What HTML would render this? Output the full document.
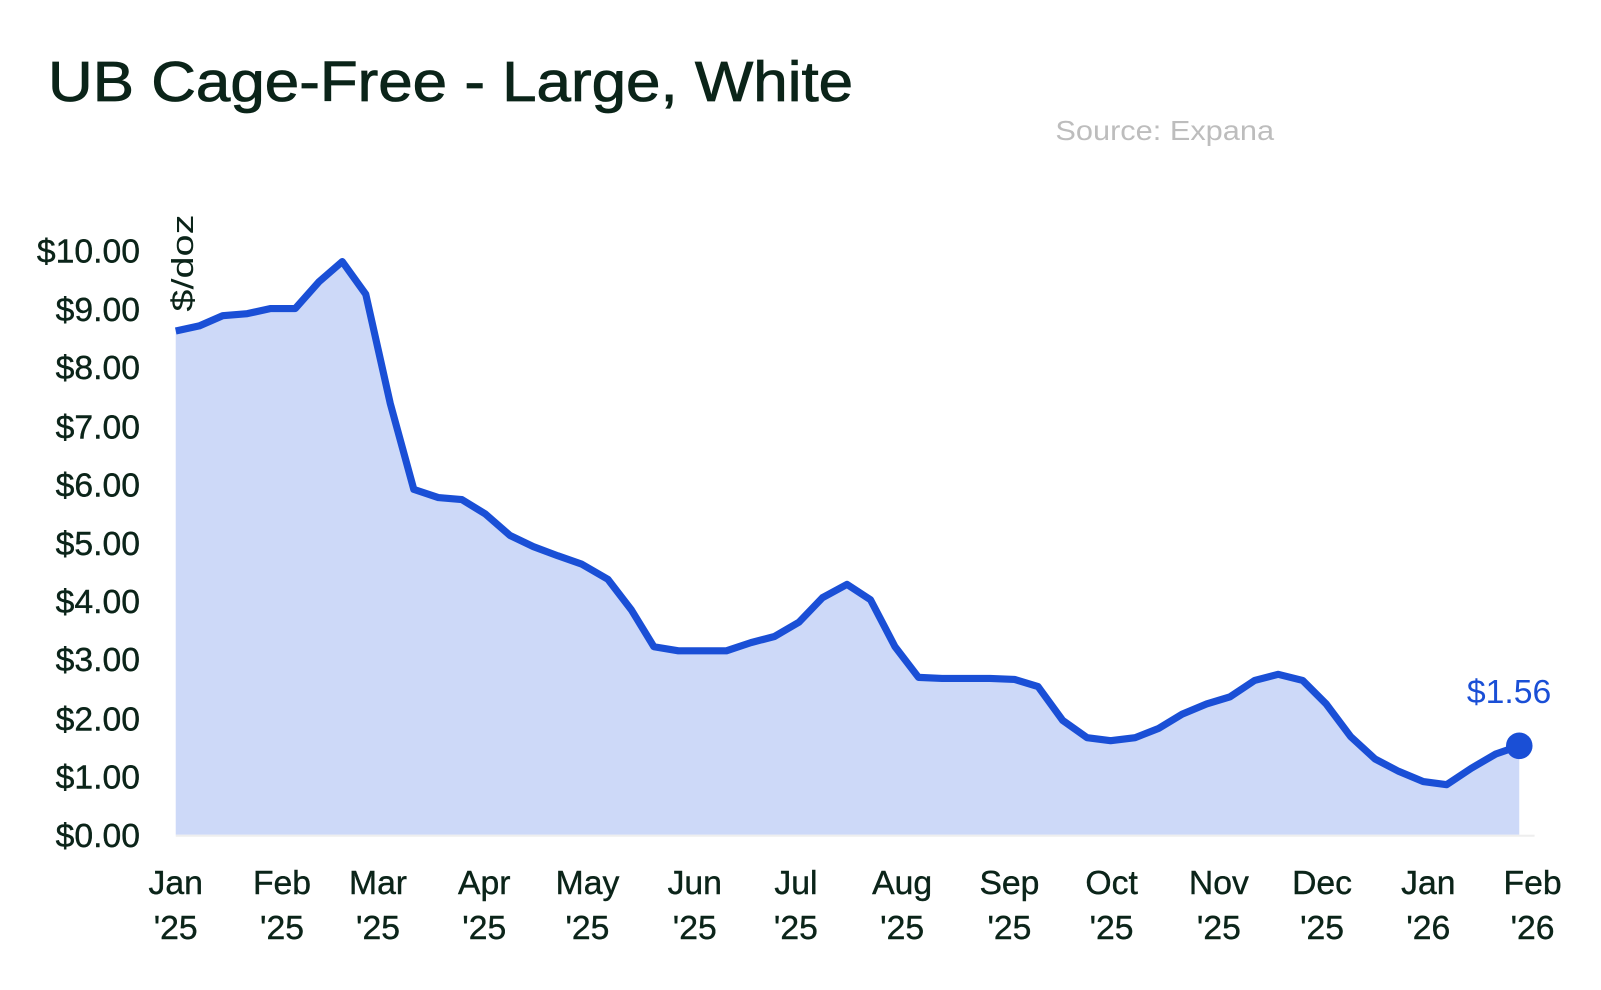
<!DOCTYPE html>
<html><head><meta charset="utf-8"><style>
html,body{margin:0;padding:0;background:#fff}
svg{display:block}
text{font-family:"Liberation Sans",sans-serif}
</style></head><body>
<svg width="1601" height="990" viewBox="0 0 1567 969" preserveAspectRatio="none" xmlns="http://www.w3.org/2000/svg">
<text x="47" y="99" font-size="55" fill="#0b2419" textLength="788" lengthAdjust="spacingAndGlyphs" stroke="#0b2419" stroke-width="0.8">UB Cage-Free - Large, White</text>
<text x="1033" y="137" font-size="27" fill="#bdbdbd" textLength="214" lengthAdjust="spacingAndGlyphs">Source: Expana</text>
<g font-size="33" fill="#0b2419" text-anchor="end" stroke="#0b2419" stroke-width="0.4">
<text x="137" y="257">$10.00</text><text x="137" y="314">$9.00</text><text x="137" y="371">$8.00</text>
<text x="137" y="429">$7.00</text><text x="137" y="486">$6.00</text><text x="137" y="543">$5.00</text>
<text x="137" y="600">$4.00</text><text x="137" y="657">$3.00</text><text x="137" y="715">$2.00</text>
<text x="137" y="772">$1.00</text><text x="137" y="829">$0.00</text>
</g>
<text transform="translate(189,305) rotate(-90)" font-size="30" fill="#0b2419" textLength="95" lengthAdjust="spacingAndGlyphs">$/doz</text>
<path fill="#cdd9f8" d="M172,324 L195,319 218,309 242,307 265,302 289,302 312,276 335,256 358,288 382,395 405,479 429,487 452,489 475,503 499,524 522,535 546,544 569,552 595,567 618,597 640,633 664,637 688,637 711,637 735,629 758,623 782,609 805,585 829,572 852,587 876,633 899,663 922,664 946,664 969,664 993,665 1016,672 1040,705 1064,722 1087,725 1111,722 1134,713 1157,699 1181,689 1204,682 1228,666 1251,660 1275,666 1298,689 1322,721 1346,743 1369,755 1393,765 1416,768 1440,752 1464,738 1487,730 L1487,817 L172,817 Z"/>
<line x1="172" y1="818" x2="1502" y2="818" stroke="#eeeeee" stroke-width="2"/>
<polyline fill="none" stroke="#1a4fd6" stroke-width="7" stroke-linejoin="round" points="172,324 195,319 218,309 242,307 265,302 289,302 312,276 335,256 358,288 382,395 405,479 429,487 452,489 475,503 499,524 522,535 546,544 569,552 595,567 618,597 640,633 664,637 688,637 711,637 735,629 758,623 782,609 805,585 829,572 852,587 876,633 899,663 922,664 946,664 969,664 993,665 1016,672 1040,705 1064,722 1087,725 1111,722 1134,713 1157,699 1181,689 1204,682 1228,666 1251,660 1275,666 1298,689 1322,721 1346,743 1369,755 1393,765 1416,768 1440,752 1464,738 1487,730"/>
<circle cx="1487" cy="730" r="13" fill="#1a4fd6"/>
<text x="1477" y="688" font-size="33" fill="#1a4fd6" text-anchor="middle">$1.56</text>
<g font-size="33" fill="#0b2419" text-anchor="middle" stroke="#0b2419" stroke-width="0.4">
<text x="172" y="875">Jan</text><text x="172" y="919">'25</text>
<text x="276" y="875">Feb</text><text x="276" y="919">'25</text>
<text x="370" y="875">Mar</text><text x="370" y="919">'25</text>
<text x="474" y="875">Apr</text><text x="474" y="919">'25</text>
<text x="575" y="875">May</text><text x="575" y="919">'25</text>
<text x="680" y="875">Jun</text><text x="680" y="919">'25</text>
<text x="779" y="875">Jul</text><text x="779" y="919">'25</text>
<text x="883" y="875">Aug</text><text x="883" y="919">'25</text>
<text x="988" y="875">Sep</text><text x="988" y="919">'25</text>
<text x="1088" y="875">Oct</text><text x="1088" y="919">'25</text>
<text x="1193" y="875">Nov</text><text x="1193" y="919">'25</text>
<text x="1294" y="875">Dec</text><text x="1294" y="919">'25</text>
<text x="1398" y="875">Jan</text><text x="1398" y="919">'26</text>
<text x="1500" y="875">Feb</text><text x="1500" y="919">'26</text>
</g>
</svg>
</body></html>
